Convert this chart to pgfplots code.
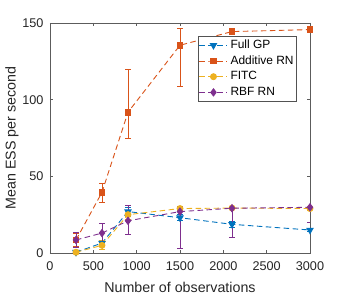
\documentclass[border=0pt]{standalone}
\usepackage{pgfplots}
\pgfplotsset{compat=1.18}
\usepackage{fontspec}
\setmainfont{Liberation Sans}
\definecolor{mblue}{rgb}{0,0.447,0.741}
\definecolor{morange}{rgb}{0.85,0.325,0.098}
\definecolor{myellow}{rgb}{0.929,0.694,0.125}
\definecolor{mpurple}{rgb}{0.494,0.184,0.556}
\definecolor{axgray}{rgb}{0.15,0.15,0.15}
\begin{document}
\begin{tikzpicture}
\begin{axis}[
  scale only axis, width=260bp, height=230bp,
  xmin=0, xmax=3000, ymin=0, ymax=150,
  xtick={0,500,...,3000}, ytick={0,50,100,150},
  scaled x ticks=false,
  /pgf/number format/assume math mode=true,
  /pgf/number format/set thousands separator={},
  tick align=inside, major tick length=3bp,
  axis line style={color=axgray!75, line width=0.5bp},
  every tick/.style={color=axgray!75, line width=0.5bp},
  tick label style={font=\fontsize{12.7}{15}\selectfont, color=axgray},
  xticklabel style={yshift=-5bp},
  yticklabel style={xshift=-3bp},
  label style={font=\fontsize{14.3}{17}\selectfont, color=axgray},
  xlabel={Number of observations},
  ylabel={Mean ESS per second},
  xlabel style={at={([yshift=-34bp]axis description cs:0.5,0)}, anchor=center},
  ylabel style={at={([xshift=-38bp]axis description cs:0,0.5)}, anchor=center},
  legend cell align=left,
  legend style={at={([xshift=-13bp,yshift=-13bp]axis description cs:1,1)}, anchor=north east,
    font=\fontsize{12}{13}\selectfont, draw=axgray!80, line width=0.5bp,
    inner xsep=0.5bp, inner ysep=1.2bp, row sep=0bp, column sep=0bp,
    nodes={inner xsep=2.6bp, inner ysep=2.3bp, text height=8.6bp, text depth=2.5bp, text=black}},
  legend image code/.code={\draw[mark repeat=2,mark phase=2] plot coordinates {(0bp,0bp) (14bp,0bp) (28bp,0bp)};},
  every axis plot/.append style={line width=0.9bp, dash pattern=on 5.5bp off 3.5bp},
  error bars/error bar style={solid, line width=0.9bp},
  error bars/error mark options={rotate=90, mark size=2.6bp, solid, line width=0.9bp},
]
\coordinate (bl) at (rel axis cs:0,0);
\coordinate (tr) at (rel axis cs:1,1);
\addplot[color=mblue, mark=triangle*, mark size=3.6bp, mark options={solid, rotate=180},
  error bars/.cd, y dir=both, y explicit] table[x=x, y=y, y error plus=ep, y error minus=em] {
x y ep em
300 0.5 1 1
600 6.5 2 2
900 27 3 3
1500 23 2 2
2100 18.7 2 2
3000 15 1 1
};
\addlegendentry{Full GP}
\addplot[color=morange, mark=square*, mark size=2.9bp, mark options={solid},
  error bars/.cd, y dir=both, y explicit] table[x=x, y=y, y error plus=ep, y error minus=em] {
x y ep em
300 8.5 4.5 4
600 39.6 5.9 6.8
900 91.8 27.6 17
1500 135.5 11.1 27
2100 144.4 1 1
3000 145.7 1 1
};
\addlegendentry{Additive RN}
\addplot[color=myellow, mark=*, mark size=3bp, mark options={solid},
  error bars/.cd, y dir=both, y explicit] table[x=x, y=y, y error plus=ep, y error minus=em] {
x y ep em
300 0.5 1 1
600 5 3 3
900 25 3 3
1500 29 1.5 1.5
2100 29.3 1 1
3000 29 1 1
};
\addlegendentry{FITC}
\addplot[color=mpurple, mark=diamond*, mark size=3.6bp, mark options={solid},
  error bars/.cd, y dir=both, y explicit] table[x=x, y=y, y error plus=ep, y error minus=em] {
x y ep em
300 8.5 5.2 4.6
600 13 6 5.6
900 21 9.7 8.8
1500 27 3.2 24
2100 29.2 0.6 19.2
3000 29.8 0.5 10
};
\addlegendentry{RBF RN}
\end{axis}
\pgfresetboundingbox
\path ([shift={(-50bp,-42bp)}]bl) rectangle ([shift={(33bp,23bp)}]tr);
\end{tikzpicture}
\end{document}
